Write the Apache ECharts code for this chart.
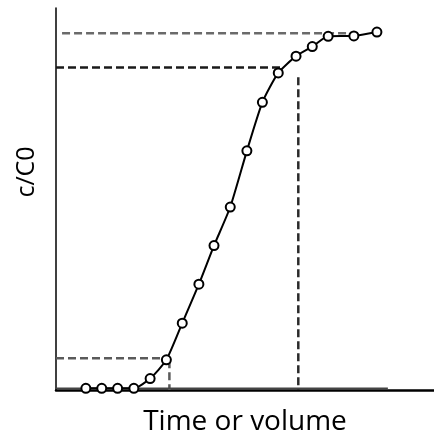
<!DOCTYPE html>
<html>
<head>
<meta charset="utf-8">
<script src="https://cdn.jsdelivr.net/npm/echarts@6/dist/echarts.min.js"></script>
<style>html,body{margin:0;padding:0;background:#fff}#c{width:434px;height:438px}</style>
</head>
<body>
<div id="c"></div>
<script>
// Breakthrough curve (arbitrary units, 0-100 on both axes)
var xValues = [7.9, 12.1, 16.3, 20.6, 24.9, 29.2, 33.4, 37.8, 41.8, 46.1, 50.5, 54.6, 58.8, 63.5, 67.8, 72.0, 78.8, 84.9];
var yValues = [0.45, 0.45, 0.45, 0.45, 3.0, 7.9, 17.5, 27.7, 37.8, 47.9, 62.6, 75.3, 83.0, 87.4, 89.9, 92.6, 92.7, 93.7];
var baseline = [[0, 0.45], [87.8, 0.45]];
// guide lines: [x1, y1, x2, y2]
var guideTop = [1.6, 93.4, 80.0, 93.4];
var guideMid = [0, 84.4, 60.0, 84.4];
var guideMidV = [64.1, 81.9, 64.1, 0];
var guideLow = [0, 8.3, 28.8, 8.3];
var guideLowV = [30.0, 7.8, 30.0, 0];
var xTitle = 'Time or volume';
var yTitle = 'c/C0';

function seg(g) { return [[g[0], g[1]], [g[2], g[3]]]; }
function guide(g, color) {
  return {
    type: 'line', data: seg(g), symbol: 'none', silent: true, z: 1,
    lineStyle: { color: color, width: 2.5, type: [8, 4] }
  };
}

var chart = echarts.init(document.getElementById('c'));
var pts = xValues.map(function (x, i) { return [x, yValues[i]]; });
chart.setOption({
  animation: false,
  grid: { left: 56, right: 0, top: 8, bottom: 48, containLabel: false, outerBoundsMode: 'none' },
  graphic: [{
    type: 'text', x: 27, y: 172, rotation: Math.PI / 2,
    style: { text: yTitle, fontFamily: 'Open Sans', fontSize: 25, fill: '#000', align: 'center', verticalAlign: 'middle' }
  }],
  xAxis: {
    type: 'value', min: 0, max: 100,
    axisLine: { show: true, lineStyle: { color: '#000', width: 2.5 } },
    axisTick: { show: false }, axisLabel: { show: false }, splitLine: { show: false },
    name: xTitle, nameLocation: 'middle', nameGap: 18,
    nameTextStyle: { fontFamily: 'Open Sans', fontSize: 28, color: '#000' }
  },
  yAxis: {
    type: 'value', min: 0, max: 100,
    axisLine: { show: true, lineStyle: { color: '#000', width: 1.5 } },
    axisTick: { show: false }, axisLabel: { show: false }, splitLine: { show: false }
  },
  series: [
    guide(guideTop, '#6a6a6a'),
    guide(guideMid, '#1a1a1a'),
    guide(guideMidV, '#2a2a2a'),
    guide(guideLow, '#5a5a5a'),
    guide(guideLowV, '#5a5a5a'),
    {
      type: 'line', data: baseline, symbol: 'none', silent: true, z: 2,
      lineStyle: { color: '#444', width: 1.5 }
    },
    {
      type: 'line', data: pts, smooth: 0.2, z: 5,
      symbol: 'circle', symbolSize: 9, showSymbol: true,
      itemStyle: { color: '#fff', borderColor: '#000', borderWidth: 2 },
      lineStyle: { color: '#000', width: 2 }
    }
  ]
});
</script>
</body>
</html>
